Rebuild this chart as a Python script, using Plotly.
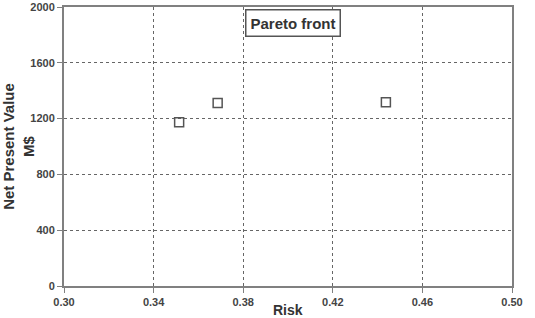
import plotly.graph_objects as go

risk = [0.3514, 0.3686, 0.4437]
npv = [1173, 1312, 1317]
x_ticks = [0.30, 0.34, 0.38, 0.42, 0.46, 0.50]
y_ticks = [0, 400, 800, 1200, 1600, 2000]

fig = go.Figure()
fig.add_trace(go.Scatter(
    x=risk, y=npv, mode="markers",
    marker=dict(symbol="square-open", size=9, color="#555555", line=dict(width=1.5)),
    showlegend=False,
))

axis_common = dict(
    showline=True, linecolor="#808080", linewidth=2, mirror=True,
    ticks="outside", ticklen=5, tickcolor="#808080", tickwidth=1,
    showgrid=True, gridcolor="#666666", gridwidth=1, griddash="dot",
    zeroline=False, automargin=False,
    tickfont=dict(family="Liberation Sans, Arial", size=11, color="#444444", weight="bold"),
)

fig.update_xaxes(
    range=[0.30, 0.50], tickvals=x_ticks, ticktext=[f"{v:.2f}" for v in x_ticks],
    **axis_common,
)
fig.update_yaxes(
    range=[0, 2000], tickvals=y_ticks, ticktext=[str(v) for v in y_ticks],
    title=dict(text="Net Present Value<br>M$", font=dict(family="Liberation Sans, Arial", size=15, color="#333333", weight="bold"), standoff=6),
    **axis_common,
)

fig.add_annotation(
    x=0.5, y=0, xref="paper", yref="paper", xanchor="center", yanchor="top",
    yshift=-14, text="Risk", showarrow=False,
    font=dict(family="Liberation Sans, Arial", size=14, color="#333333", weight="bold"),
)

fig.add_annotation(
    x=0.404, y=0.993, xref="paper", yref="paper", xanchor="left", yanchor="top",
    text="Pareto front", showarrow=False,
    font=dict(family="Liberation Sans, Arial", size=15, color="#333333", weight="bold"),
    bordercolor="#555555", borderwidth=1.5, borderpad=4, bgcolor="white",
)

fig.update_layout(
    width=535, height=318,
    margin=dict(l=64, r=23, t=7, b=32),
    paper_bgcolor="white", plot_bgcolor="white",
)

fig.write_html("out.html")
